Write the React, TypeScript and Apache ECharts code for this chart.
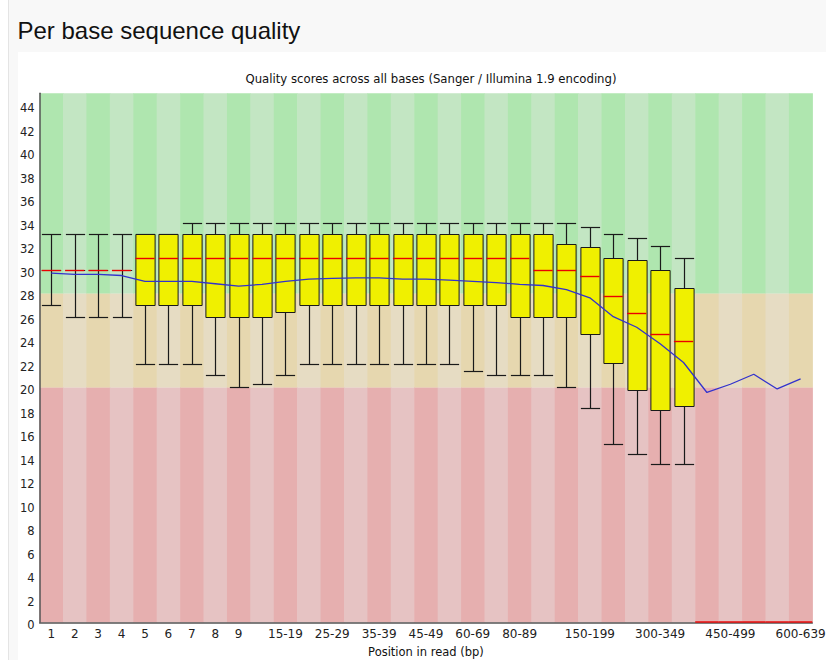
import React, { useEffect, useRef } from "react";
import * as echarts from "echarts";

const categories = [
  "1", "2", "3", "4", "5", "6", "7", "8", "9", "10-14", "15-19", "20-24", "25-29",
  "30-34", "35-39", "40-44", "45-49", "50-59", "60-69", "70-79", "80-89", "90-99",
  "100-149", "150-199", "200-249", "250-299", "300-349", "350-399", "400-449",
  "450-499", "500-549", "550-599", "600-639",
];

// 10th percentile (lower whisker)
const lowerWhisker = [27, 26, 26, 26, 22, 22, 22, 21, 20, 20.3, 21, 22, 22, 22, 22, 22, 22, 22, 21.4, 21, 21, 21, 20, 18.2, 15.2, 14.3, 13.5, 13.5, 0, 0, 0, 0, 0];
// lower quartile
const lowerQuartile = [30, 30, 30, 30, 27, 27, 27, 26, 26, 26, 26.4, 27, 27, 27, 27, 27, 27, 27, 27, 27, 26, 26, 26, 24.5, 22.1, 19.8, 18.1, 18.4, 0, 0, 0, 0, 0];
// median
const medians = [30, 30, 30, 30, 31, 31, 31, 31, 31, 31, 31, 31, 31, 31, 31, 31, 31, 31, 31, 31, 31, 30, 30, 29.5, 27.75, 26.35, 24.5, 23.9, 0, 0, 0, 0, 0];
// upper quartile
const upperQuartile = [30, 30, 30, 30, 33, 33, 33, 33, 33, 33, 33, 33, 33, 33, 33, 33, 33, 33, 33, 33, 33, 33, 32.2, 31.9, 31.0, 30.8, 30, 28.4, 0, 0, 0, 0, 0];
// 90th percentile (upper whisker)
const upperWhisker = [33, 33, 33, 33, 33, 33, 34, 34, 34, 34, 34, 34, 34, 34, 34, 34, 34, 34, 34, 34, 34, 34, 34, 33.6, 33.0, 32.7, 32, 31, 0, 0, 0, 0, 0];
// mean quality
const means = [29.7, 29.6, 29.6, 29.5, 29.0, 29.0, 29.0, 28.8, 28.6, 28.75, 29.0, 29.2, 29.25, 29.3, 29.3, 29.2, 29.2, 29.1, 29.0, 28.9, 28.75, 28.65, 28.3, 27.6, 26.0, 25.1, 23.7, 22.1, 19.55, 20.25, 21.1, 19.85, 20.7];

// quality zone limits: bad / reasonable / good
const zoneLimits = [0, 20, 28, 45];
const yTickStep = 2;

// x labels shown (others hidden, as in the reference)
const shownLabels = ["1", "2", "3", "4", "5", "6", "7", "8", "9", "15-19", "25-29", "35-39", "45-49", "60-69", "80-89", "150-199", "300-349", "450-499", "600-639"];

const zoneColors = [
  { dark: "rgb(230,175,175)", light: "rgb(230,195,195)" },
  { dark: "rgb(230,215,175)", light: "rgb(230,220,195)" },
  { dark: "rgb(175,230,175)", light: "rgb(195,230,195)" },
];

const FONT = '"DejaVu Sans", sans-serif';

export default function App() {
  const ref = useRef<HTMLDivElement>(null);

  useEffect(() => {
    document.body.style.margin = "0";
    if (!ref.current) return;
    const chart = echarts.init(ref.current, undefined, { renderer: "svg" });

    const boxData = categories.map((_, i) => [
      i, lowerWhisker[i], lowerQuartile[i], medians[i], upperQuartile[i], upperWhisker[i],
    ]);
    const bgData = categories.map((_, i) => [i, 0]);

    const crisp = (v: number) => Math.round(v) + 0.5;

    chart.setOption({
      animation: false,
      backgroundColor: "transparent",
      grid: { left: 39.6, right: 13.7, top: 93.3, bottom: 37.7, containLabel: false, outerBoundsMode: "none" },
      graphic: [
        {
          type: "text",
          style: {
            x: 17.5, y: 30, text: "Per base sequence quality",
            font: '24px "Liberation Sans", Arial, sans-serif', fill: "#111",
            verticalAlign: "middle", align: "left",
          },
        },
        {
          type: "text",
          style: {
            x: 431, y: 78.5, text: "Quality scores across all bases (Sanger / Illumina 1.9 encoding)",
            font: '11.7px "DejaVu Sans", sans-serif', fill: "#111",
            verticalAlign: "middle", align: "center",
          },
        },
      ],
      xAxis: {
        type: "category",
        data: categories,
        boundaryGap: true,
        axisLine: { show: true, lineStyle: { color: "#555", width: 1.5 } },
        axisTick: { show: false },
        splitLine: { show: false },
        axisLabel: {
          interval: (_idx: number, value: string) => shownLabels.indexOf(value) >= 0,
          fontFamily: FONT, fontSize: 12, color: "#222", margin: 6,
        },
        name: "Position in read (bp)",
        nameLocation: "middle",
        nameGap: 24,
        nameTextStyle: { fontFamily: FONT, fontSize: 11.5, color: "#111" },
        z: 1,
      },
      yAxis: {
        type: "value",
        min: 0, max: 45, interval: yTickStep,
        axisLine: { show: true, lineStyle: { color: "#555", width: 1.5 } },
        axisTick: { show: false },
        splitLine: { show: false },
        axisLabel: {
          showMaxLabel: false,
          fontFamily: FONT, fontSize: 11.5, color: "#222", margin: 5,
          verticalAlign: "top", lineHeight: 6,
        },
        z: 1,
      },
      series: [
        {
          type: "custom",
          z: 0,
          silent: true,
          data: bgData,
          encode: { x: 0, y: 1 },
          renderItem: (_p: any, api: any) => {
            const i = api.value(0);
            const w = api.size([1, 0])[0];
            const cx = api.coord([i, 0])[0];
            const x = cx - w / 2;
            const even = i % 2 === 0;
            const children = [] as any[];
            for (let z = 0; z < zoneLimits.length - 1; z++) {
              const top = api.coord([i, zoneLimits[z + 1]])[1];
              const bottom = api.coord([i, zoneLimits[z]])[1];
              children.push({
                type: "rect",
                shape: { x, y: top, width: w + 0.6, height: bottom - top + 0.3 },
                style: { fill: even ? zoneColors[z].dark : zoneColors[z].light },
              });
            }
            return { type: "group", children };
          },
        },
        {
          type: "custom",
          z: 5,
          silent: true,
          data: boxData,
          encode: { x: 0, y: [1, 2, 3, 4, 5] },
          renderItem: (_p: any, api: any) => {
            const i = api.value(0);
            const low = api.coord([i, api.value(1)]);
            const q1 = api.coord([i, api.value(2)]);
            const med = api.coord([i, api.value(3)]);
            const q3 = api.coord([i, api.value(4)]);
            const high = api.coord([i, api.value(5)]);
            const w = api.size([1, 0])[0] * 0.82;
            const cx = crisp(low[0]);
            const half = w / 2;
            const ink = "#1a1a1a";
            const hasData = api.value(5) > 0;
            const children: any[] = [];
            if (hasData) {
              children.push(
                { type: "line", shape: { x1: cx, y1: crisp(low[1]), x2: cx, y2: crisp(high[1]) }, style: { stroke: ink, lineWidth: 1.2 } },
                { type: "line", shape: { x1: cx - half, y1: crisp(low[1]), x2: cx + half, y2: crisp(low[1]) }, style: { stroke: ink, lineWidth: 1.2 } },
                { type: "line", shape: { x1: cx - half, y1: crisp(high[1]), x2: cx + half, y2: crisp(high[1]) }, style: { stroke: ink, lineWidth: 1.2 } },
                {
                  type: "rect",
                  shape: { x: cx - half, y: crisp(q3[1]), width: w, height: crisp(q1[1]) - crisp(q3[1]) },
                  style: { fill: "rgb(240,240,0)", stroke: ink, lineWidth: 1 },
                },
              );
            }
            const full = api.size([1, 0])[0];
            const mHalf = hasData ? half : full / 2;
            const my = crisp(med[1]) - (hasData ? 0 : 0.5);
            children.push({
              type: "line",
              shape: { x1: low[0] - mHalf, y1: my, x2: low[0] + mHalf, y2: my },
              style: { stroke: "rgb(235,0,0)", lineWidth: 1.4 },
            });
            return { type: "group", children };
          },
        },
        {
          type: "line",
          z: 6,
          silent: true,
          data: means,
          symbol: "none",
          showSymbol: false,
          lineStyle: { color: "rgb(50,50,205)", width: 1.3 },
        },
      ],
    });

    return () => chart.dispose();
  }, []);

  return (
    <div style={{ position: "relative", width: 826, height: 660, background: "#fff", overflow: "hidden" }}>
      <div style={{ position: "absolute", left: 8, top: 0, right: 0, bottom: 0, background: "#f8f8f8", borderLeft: "1px solid #e4e4e4" }} />
      <div style={{ position: "absolute", left: 18, top: 52, right: 0, bottom: 0, background: "#fff" }} />
      <div ref={ref} style={{ position: "absolute", left: 0, top: 0, width: 826, height: 660 }} />
    </div>
  );
}
